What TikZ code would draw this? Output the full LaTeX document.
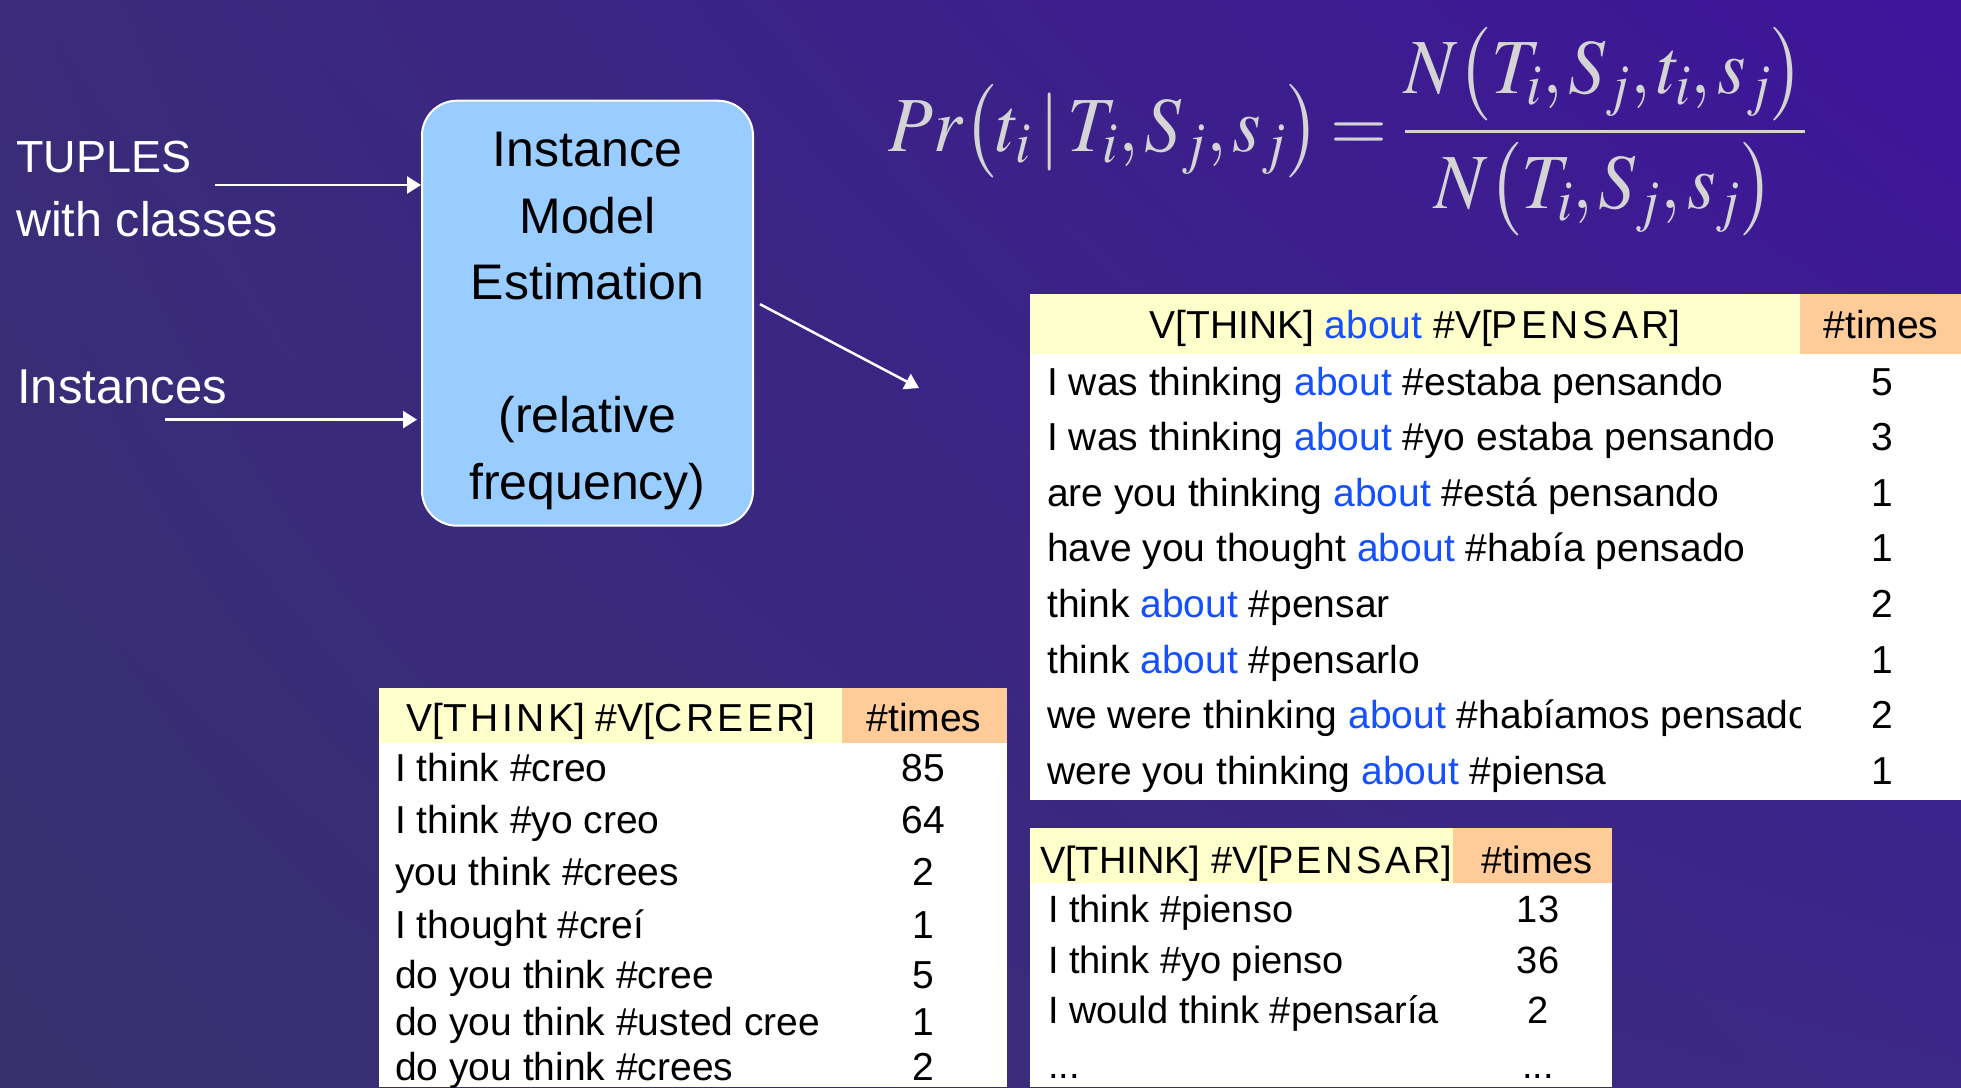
\documentclass[tikz,border=0pt]{standalone}
\usepackage{mathptmx}
\usepackage[no-math]{fontspec}
\setmainfont{Liberation Sans}
\newfontfamily\spacedcaps{Liberation Sans}[LetterSpace=9]
\usetikzlibrary{arrows.meta,shadings}

\definecolor{bgTL}{RGB}{58,44,122}
\definecolor{bgTR}{RGB}{62,20,155}
\definecolor{bgBL}{RGB}{55,48,110}
\definecolor{bgBR}{RGB}{60,40,135}
\definecolor{boxblue}{RGB}{153,204,255}
\definecolor{hdryellow}{RGB}{255,255,204}
\definecolor{hdrorange}{RGB}{255,204,153}
\definecolor{aboutblue}{RGB}{20,80,255}
\definecolor{formulagray}{RGB}{212,212,212}

\newcommand\abt{\textcolor{aboutblue}{about}}
% tight comma for the formula
\newcommand\cm{{,}\mkern1.5mu}

\begin{document}
\begin{tikzpicture}[x=1pt,y=-1pt,
  lbl/.style={text=white, inner sep=0pt, anchor=base west},
  arr/.style={draw=white, line width=2.5pt, -{Triangle[length=14pt,width=17pt]}},
  cell/.style={inner sep=0pt, anchor=base west, font=\fontsize{39}{46}\selectfont},
  num/.style={inner sep=0pt, anchor=base, font=\fontsize{39}{46}\selectfont},
  hdr/.style={inner sep=0pt, anchor=base, font=\fontsize{39}{46}\selectfont},
  smallcell/.style={cell, font=\fontsize{38}{46}\selectfont},
  smallnum/.style={num, font=\fontsize{38}{46}\selectfont},
]
% background
\useasboundingbox (0,0) rectangle (1961,1087);
\shade[upper left=bgTL, upper right=bgTR, lower left=bgBL, lower right=bgBR]
  (0,0) rectangle (1961,1087);

% estimation box
\node[draw=white, line width=2pt, fill=boxblue, rounded corners=35pt,
      minimum width=331pt, minimum height=425pt, inner sep=0pt] (box) at (587.5,313.2) {};
\node[align=center, inner sep=0pt, font=\fontsize{50}{66.5}\selectfont] (boxtext) at (587.5,321)
  {Instance\\Model\\Estimation\\[66.5pt](relative\\frequency)};

% inputs
\node[lbl, font=\fontsize{45}{56}\selectfont] (tuples) at (16,172.5) {TUPLES};
\node[lbl, font=\fontsize{48.5}{56}\selectfont] (classes) at (16,236) {with classes};
\node[lbl, font=\fontsize{49}{56}\selectfont] (inst) at (17,403.6) {Instances};
\coordinate (a1s) at (215,185);
\coordinate (a2s) at (165,419.6);
\coordinate (a3e) at (919,388);
\draw[arr] (a1s) -- (box.west |- a1s);
\draw[arr, shorten >=4pt] (a2s) -- (box.west |- a2s);
\draw[arr] ([shift={(6,-9)}]box.east) -- (a3e);

% formula
\node[inner sep=0pt, anchor=base west, text=formulagray, font=\fontsize{78}{90}\selectfont] (eq) at (888,151)
  {\scalebox{0.94}[1]{$\displaystyle Pr\bigl(t_i\,|\,T_i\cm S_j\cm s_j\bigr)\mkern2.5mu{=}\mkern4mu
    \frac{N\bigl(T_i\cm S_j\cm t_i\cm s_j\bigr)}{N\bigl(T_i\cm S_j\cm s_j\bigr)}$}};

% table: V[THINK] about #V[PENSAR]
\fill[hdryellow] (1030,294) rectangle (1800,354);
\fill[hdrorange] (1800,294) rectangle (1961,354);
\fill[white] (1030,354) rectangle (1961,800);
\node[hdr] (h1) at (1415,338) {V[THINK] \abt{} \#V[{\spacedcaps PENSAR}]};
\node[hdr] (h1t) at (1881,338) {\#times};
\begin{scope}
\clip (1030,354) rectangle (1800,800);
\node[cell] (r11) at (1047,395.0) {I was thinking \abt{} \#estaba pensando};
\node[cell] (r12) at (1047,450.6) {I was thinking \abt{} \#yo estaba pensando};
\node[cell] (r13) at (1047,506.2) {are you thinking \abt{} \#está pensando};
\node[cell] (r14) at (1047,561.8) {have you thought \abt{} \#había pensado};
\node[cell] (r15) at (1047,617.4) {think \abt{} \#pensar};
\node[cell] (r16) at (1047,673.0) {think \abt{} \#pensarlo};
\node[cell] (r17) at (1047,728.6) {we were thinking \abt{} \#habíamos pensado};
\node[cell] (r18) at (1047,784.2) {were you thinking \abt{} \#piensa};
\end{scope}
\node[num] (n11) at (1882,395.0) {5};
\node[num] (n12) at (1882,450.6) {3};
\node[num] (n13) at (1882,506.2) {1};
\node[num] (n14) at (1882,561.8) {1};
\node[num] (n15) at (1882,617.4) {2};
\node[num] (n16) at (1882,673.0) {1};
\node[num] (n17) at (1882,728.6) {2};
\node[num] (n18) at (1882,784.2) {1};

% table: V[THINK] #V[CREER]
\fill[hdryellow] (379,688) rectangle (842,743);
\fill[hdrorange] (842,688) rectangle (1007,743);
\fill[white] (379,743) rectangle (1007,1087);
\node[hdr] (h2) at (611,731.7) {V[{\spacedcaps THINK}] \#V[{\spacedcaps CREER}]};
\node[hdr] (h2t) at (924,731.7) {\#times};
\node[cell] (r21) at (395,781.7) {I think \#creo};
\node[cell] (r22) at (395,833) {I think \#yo creo};
\node[cell] (r23) at (395,885) {you think \#crees};
\node[cell] (r24) at (395,938) {I thought \#creí};
\node[cell] (r25) at (395,988) {do you think \#cree};
\node[cell] (r26) at (395,1035) {do you think \#usted cree};
\node[cell] (r27) at (395,1080) {do you think \#crees};
\node[num] (n21) at (923.5,781.7) {85};
\node[num] (n22) at (923.5,833) {64};
\node[num] (n23) at (923.5,885) {2};
\node[num] (n24) at (923.5,938) {1};
\node[num] (n25) at (923.5,988) {5};
\node[num] (n26) at (923.5,1035) {1};
\node[num] (n27) at (923.5,1080) {2};

% table: V[THINK] #V[PENSAR]
\fill[hdryellow] (1030,828) rectangle (1453,883);
\fill[hdrorange] (1453,828) rectangle (1612,883);
\fill[white] (1030,883) rectangle (1612,1087);
\node[hdr, font=\fontsize{38}{46}\selectfont] (h3) at (1246,873) {V[THINK] \#V[{\spacedcaps PENSAR}]};
\node[hdr, font=\fontsize{38}{46}\selectfont] (h3t) at (1537,873) {\#times};
\node[smallcell] (r31) at (1048,922) {I think \#pienso};
\node[smallcell] (r32) at (1048,973) {I think \#yo pienso};
\node[smallcell] (r33) at (1048,1023) {I would think \#pensaría};
\node[smallcell] (r34) at (1048,1078) {...};
\node[smallnum] (n31) at (1538,922) {13};
\node[smallnum] (n32) at (1538,973) {36};
\node[smallnum] (n33) at (1538,1023) {2};
\node[smallnum] (n34) at (1538,1078) {...};
\end{tikzpicture}
\end{document}
